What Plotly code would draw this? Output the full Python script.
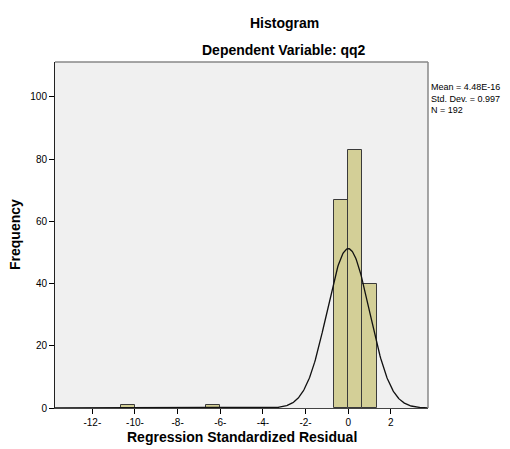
import numpy as np
import plotly.graph_objects as go

# Histogram data (bin left edges, bin width, counts)
bin_width = 2.0 / 3.0
bin_left = [-32/3, -20/3, -2/3, 0.0, 2/3]
counts = [1, 1, 67, 83, 40]

# Summary statistics
mean_val = 4.48e-16
std_val = 0.997
n_val = 192

tick_vals = [-12, -10, -8, -6, -4, -2, 0, 2]
tick_text = ["-12-", "-10-", "-8-", "-6-", "-4-", "-2-", "0", "2"]
y_tick_vals = [0, 20, 40, 60, 80, 100]

stats_lines = [f"Mean = {mean_val:.2E}", f"Std. Dev. = {std_val}", f"N = {n_val}"]

x_range = [-13.75, 3.74]
y_range = [0, 111.2]

centers = [b + bin_width / 2 for b in bin_left]

xs = np.linspace(x_range[0], x_range[1], 600)
ys = n_val * bin_width / (std_val * np.sqrt(2 * np.pi)) * np.exp(-0.5 * ((xs - mean_val) / std_val) ** 2)

fig = go.Figure()
fig.add_trace(go.Bar(
    x=centers, y=counts, width=[bin_width] * len(counts),
    marker=dict(color="#d3cf97", line=dict(color="#3a3a3a", width=1)),
    showlegend=False, hoverinfo="skip",
))
fig.add_trace(go.Scatter(
    x=xs, y=ys, mode="lines", line=dict(color="#111111", width=1.3),
    showlegend=False, hoverinfo="skip",
))

font_family = "Liberation Sans, Arial, sans-serif"
L, R, T, B = 55, 82, 62, 41
W, H = 510, 449
pw, ph = W - L - R, H - T - B

def px(x):
    return (x - L) / pw

def py(y):
    return (H - B - y) / ph

fig.update_layout(
    width=W, height=H,
    margin=dict(l=L, r=R, t=T, b=B, autoexpand=False),
    paper_bgcolor="white",
    plot_bgcolor="#f0f0f0",
    font=dict(family=font_family, size=10, color="#000000"),
    bargap=0,
)

fig.add_annotation(text="<b>Histogram</b>", xref="paper", yref="paper",
                   x=px(284), y=py(23), xanchor="center", yanchor="middle",
                   showarrow=False, font=dict(size=14, family=font_family))
fig.add_annotation(text="<b>Dependent Variable: qq2</b>", xref="paper", yref="paper",
                   x=px(284), y=py(50), xanchor="center", yanchor="middle",
                   showarrow=False, font=dict(size=14, family=font_family))
fig.add_annotation(text="<br>".join(stats_lines), xref="paper", yref="paper",
                   x=px(429), y=py(80), xanchor="left", yanchor="top",
                   align="left", showarrow=False,
                   font=dict(size=9, family=font_family))
fig.add_annotation(text="<b>Regression Standardized Residual</b>", xref="paper", yref="paper",
                   x=0.5, y=py(447), xanchor="center", yanchor="bottom",
                   showarrow=False, font=dict(size=14, family=font_family))
fig.add_annotation(text="<b>Frequency</b>", xref="paper", yref="paper",
                   x=px(15), y=0.5, xanchor="center", yanchor="middle", textangle=-90,
                   showarrow=False, font=dict(size=14, family=font_family))

fig.update_xaxes(
    range=x_range, tickvals=tick_vals, ticktext=tick_text,
    ticks="outside", ticklen=5, tickcolor="#000", tickwidth=1,
    showgrid=False, zeroline=False, automargin=False,
    showline=True, linecolor="#444444", linewidth=1, mirror=False,
    tickfont=dict(size=10),
)
fig.update_yaxes(
    range=y_range, tickvals=y_tick_vals,
    ticks="outside", ticklen=5, tickcolor="#000", tickwidth=1,
    showgrid=False, zeroline=False, automargin=False,
    showline=True, linecolor="#222222", linewidth=1,
    tickfont=dict(size=10),
)
# top and right borders of plot area
fig.add_shape(type="line", xref="paper", yref="paper", x0=0, x1=1, y0=1, y1=1,
              line=dict(color="#888888", width=1.5))
fig.add_shape(type="line", xref="paper", yref="paper", x0=1, x1=1, y0=0, y1=1,
              line=dict(color="#888888", width=1.5))

fig.write_html("out.html")
